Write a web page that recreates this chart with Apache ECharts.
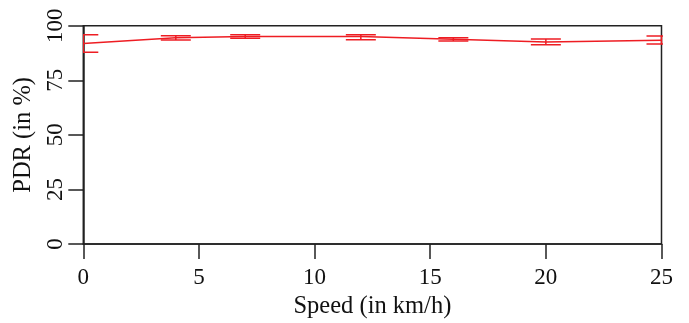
<!DOCTYPE html>
<html>
<head>
<meta charset="utf-8">
<script src="https://cdn.jsdelivr.net/npm/echarts@6/dist/echarts.min.js"></script>
<style>html,body{margin:0;padding:0;background:#fff}#c{width:689px;height:323px}</style>
</head>
<body>
<div id="c"></div>
<script>
var speeds = [0, 4, 7, 12, 16, 20, 25];
var pdrMean = [91.9, 94.5, 95.0, 95.0, 93.8, 92.5, 93.3];
var pdrLow  = [87.8, 93.4, 94.2, 93.6, 93.0, 91.3, 91.6];
var pdrHigh = [95.9, 95.4, 95.9, 95.9, 94.5, 93.9, 95.3];
var xTicks = [0, 5, 10, 15, 20, 25];
var yTicks = [0, 25, 50, 75, 100];

var RED = '#ee1d23';
var FONT = 'Liberation Serif';
var chart = echarts.init(document.getElementById('c'), null, {renderer: 'canvas'});

var lineData = speeds.map(function (s, i) { return [s, pdrMean[i]]; });
var errData = speeds.map(function (s, i) { return [s, pdrLow[i], pdrHigh[i]]; });

chart.setOption({
  animation: false,
  grid: {left: 83.3, right: 27.5, top: 25.7, bottom: 79, containLabel: false, outerBoundsMode: 'none',
         show: true, borderColor: '#222', borderWidth: 1.5, backgroundColor: 'transparent'},
  xAxis: {
    type: 'value', min: xTicks[0], max: xTicks[xTicks.length - 1], interval: 5,
    name: 'Speed (in km/h)', nameLocation: 'middle', nameGap: 46,
    nameTextStyle: {fontFamily: FONT, fontSize: 24.5, color: '#111'},
    axisLine: {show: true, onZero: false, lineStyle: {color: '#222', width: 1.5}},
    axisTick: {show: true, inside: false, length: 15, lineStyle: {color: '#222', width: 1.5}},
    axisLabel: {fontFamily: FONT, fontSize: 23, color: '#111', margin: 22},
    splitLine: {show: false}
  },
  yAxis: {
    type: 'value', min: yTicks[0], max: yTicks[yTicks.length - 1], interval: 25,
    name: 'PDR (in %)', nameLocation: 'middle', nameGap: 45,
    nameTextStyle: {fontFamily: FONT, fontSize: 24.5, color: '#111'},
    axisLine: {show: true, onZero: false, lineStyle: {color: '#222', width: 1.5}},
    axisTick: {show: true, inside: false, length: 15, lineStyle: {color: '#222', width: 1.5}},
    axisLabel: {fontFamily: FONT, fontSize: 23, color: '#111', margin: 16, rotate: 90,
                align: 'center', verticalAlign: 'bottom'},
    splitLine: {show: false}
  },
  series: [
    {
      type: 'line', data: lineData, symbol: 'none', clip: true,
      lineStyle: {color: RED, width: 1.5}
    },
    {
      type: 'custom', clip: true, data: errData,
      renderItem: function (params, api) {
        var x = api.value(0);
        var lo = api.coord([x, api.value(1)]);
        var hi = api.coord([x, api.value(2)]);
        var hw = 15;
        var style = {stroke: RED, lineWidth: 1.5, fill: null};
        return {
          type: 'group',
          children: [
            {type: 'line', shape: {x1: lo[0], y1: lo[1], x2: hi[0], y2: hi[1]}, style: style},
            {type: 'line', shape: {x1: lo[0] - hw, y1: lo[1], x2: lo[0] + hw, y2: lo[1]}, style: style},
            {type: 'line', shape: {x1: hi[0] - hw, y1: hi[1], x2: hi[0] + hw, y2: hi[1]}, style: style}
          ]
        };
      }
    }
  ]
});
</script>
</body>
</html>
